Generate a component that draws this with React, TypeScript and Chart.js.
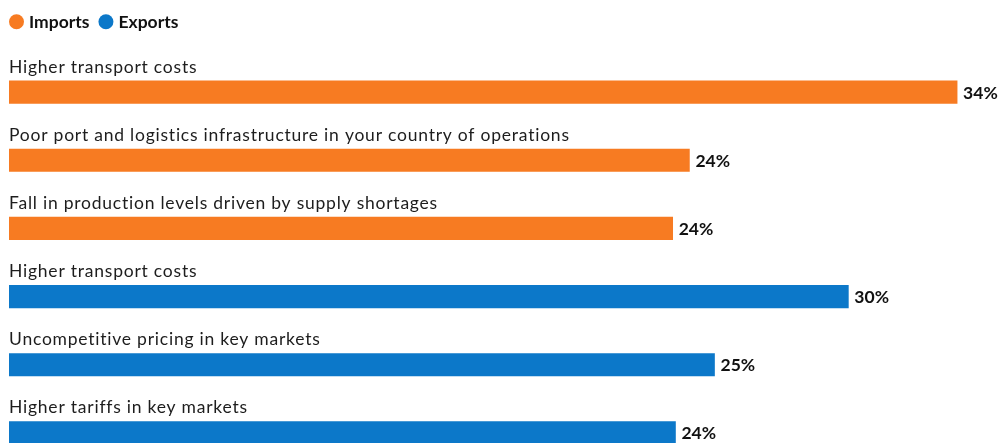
import React, { useEffect, useRef } from "react";
import { Chart, registerables } from "chart.js";

Chart.register(...registerables);

const categories = [
  "Higher transport costs",
  "Poor port and logistics infrastructure in your country of operations",
  "Fall in production levels driven by supply shortages",
  "Higher transport costs",
  "Uncompetitive pricing in key markets",
  "Higher tariffs in key markets",
];
const importsValues = [34.0, 24.4, 23.8, null, null, null];
const exportsValues = [null, null, null, 30.1, 25.3, 23.9];
const valueLabels = ["34%", "24%", "24%", "30%", "25%", "24%"];
const seriesNames = ["Imports", "Exports"];
const seriesColors = ["#F77B22", "#0C78C9"];

const FONT = "Lato, 'Noto Sans', sans-serif";

const labelPlugin = {
  id: "barLabels",
  afterDatasetsDraw(chart: any) {
    const ctx = chart.ctx;
    ctx.save();
    chart.data.datasets.forEach((ds: any, di: number) => {
      const meta = chart.getDatasetMeta(di);
      meta.data.forEach((el: any, i: number) => {
        const v = ds.data[i];
        if (v === null || v === undefined) return;
        ctx.textAlign = "left";
        ctx.textBaseline = "alphabetic";
        ctx.fillStyle = "#1d1d1d";
        ctx.font = `400 17.5px ${FONT}`;
        (ctx as any).letterSpacing = "0.77px";
        ctx.fillText(chart.data.labels[i], el.base, el.y - 19.5);
        (ctx as any).letterSpacing = "0px";
        ctx.fillStyle = "#111111";
        ctx.font = `700 17.5px ${FONT}`;
        ctx.fillText(valueLabels[i], el.x + 6, el.y + 6.5);
      });
    });
    // legend
    let x = 9;
    const cy = 21.7;
    seriesNames.forEach((name, i) => {
      ctx.beginPath();
      ctx.fillStyle = seriesColors[i];
      ctx.arc(x + 7.5, cy, 7.5, 0, Math.PI * 2);
      ctx.fill();
      x += 20;
      ctx.fillStyle = "#111111";
      ctx.font = `700 17.5px ${FONT}`;
      ctx.textAlign = "left";
      ctx.textBaseline = "alphabetic";
      ctx.fillText(name, x, 27.7);
      x += ctx.measureText(name).width + 9;
    });
    ctx.restore();
  },
};

export default function App() {
  const ref = useRef<HTMLCanvasElement | null>(null);
  useEffect(() => {
    if (!ref.current) return;
    const chart = new Chart(ref.current, {
      type: "bar",
      data: {
        labels: categories,
        datasets: [
          {
            label: seriesNames[0],
            data: importsValues as any,
            backgroundColor: seriesColors[0],
            grouped: false,
            barThickness: 22.5,
          } as any,
          {
            label: seriesNames[1],
            data: exportsValues as any,
            backgroundColor: seriesColors[1],
            grouped: false,
            barThickness: 22.5,
          } as any,
        ],
      },
      options: {
        indexAxis: "y",
        responsive: false,
        animation: false,
        layout: { padding: { left: 9, right: 19, top: 58, bottom: 0 } },
        scales: {
          x: { type: "linear", min: 0, max: 35, display: false },
          y: { type: "category", display: false, offset: true },
        },
        plugins: {
          legend: { display: false },
          tooltip: { enabled: false },
        },
      },
      plugins: [labelPlugin],
    });
    return () => chart.destroy();
  }, []);
  return (
    <div
      style={{
        position: "fixed",
        left: 0,
        top: 0,
        width: 1004,
        height: 443,
        overflow: "hidden",
        background: "#ffffff",
      }}
    >
      <canvas ref={ref} width={1004} height={467} style={{ display: "block" }} />
    </div>
  );
}
